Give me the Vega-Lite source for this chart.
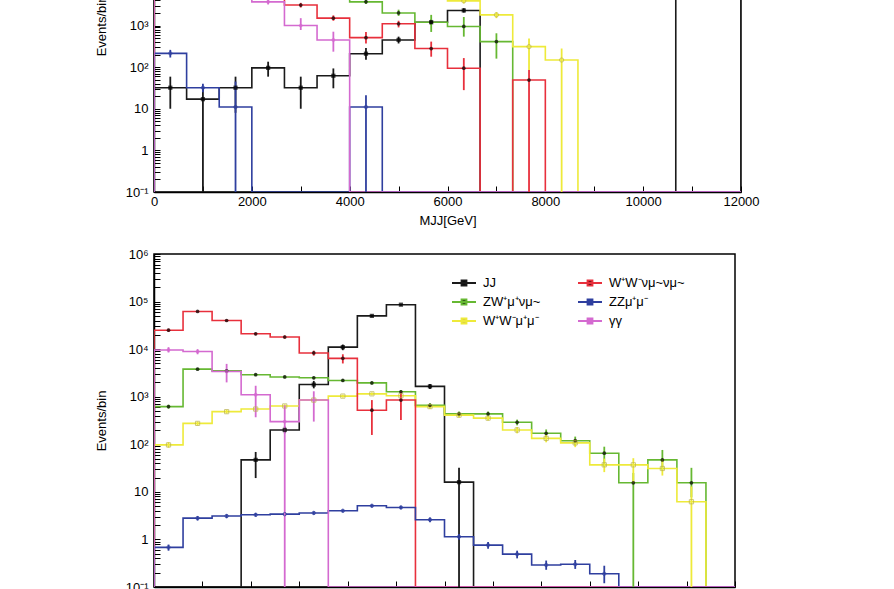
{
"$schema": "https://vega.github.io/schema/vega-lite/v6.json",
"background": "white",
"autosize": {"type": "pad"},
"padding": {"left": 94, "top": -148, "right": 5, "bottom": 5},
"config": {
  "font": "Liberation Sans",
  "view": {"stroke": "#000", "strokeWidth": 1.5},
  "axis": {"domainColor": "#000", "domainWidth": 1.5, "tickColor": "#000", "tickWidth": 1, "labelColor": "#000", "titleColor": "#000", "labelFont": "Liberation Sans", "titleFont": "Liberation Sans", "labelFontSize": 13, "titleFontSize": 13, "titleFontWeight": "normal", "grid": false, "labelOverlap": false, "labelFlush": false, "labelBound": false}
},
"datasets": {
"top": [
{"s":"JJ","x":-666.7,"v":0},
{"s":"JJ","x":0,"c":333.3,"v":32,"l":10,"h":59},
{"s":"JJ","x":666.7,"c":1000,"v":17,"l":0,"h":32},
{"s":"JJ","x":1333.3,"c":1666.7,"v":32,"l":8,"h":59},
{"s":"JJ","x":2000,"c":2333.3,"v":96,"l":59,"h":135},
{"s":"JJ","x":2666.7,"c":3000,"v":32,"l":10,"h":59},
{"s":"JJ","x":3333.3,"c":3666.7,"v":62,"l":31,"h":93},
{"s":"JJ","x":4000,"c":4333.3,"v":210,"l":150,"h":290},
{"s":"JJ","x":4666.7,"c":5000,"v":450,"l":370,"h":540},
{"s":"JJ","x":5333.3,"c":5666.7,"v":1200,"l":1050,"h":1400},
{"s":"JJ","x":6000,"c":6333.3,"v":2300,"l":2050,"h":2600},
{"s":"JJ","x":6666.7,"v":0},
{"s":"JJ","x":7333.3,"v":0},
{"s":"JJ","x":8000,"v":0},
{"s":"JJ","x":8666.7,"v":0},
{"s":"JJ","x":9333.3,"v":0},
{"s":"JJ","x":10000,"v":0},
{"s":"JJ","x":10666.7,"c":11000,"v":30000,"l":28000,"h":32000},
{"s":"JJ","x":11333.3,"c":11666.7,"v":60000,"l":57000,"h":63000},
{"s":"JJ","x":12000,"v":0},
{"s":"ZW⁺μ⁺νμ~","x":-666.7,"v":0},
{"s":"ZW⁺μ⁺νμ~","x":0,"c":333.3,"v":10000,"l":9200,"h":10800},
{"s":"ZW⁺μ⁺νμ~","x":666.7,"c":1000,"v":15000,"l":14000,"h":16000},
{"s":"ZW⁺μ⁺νμ~","x":1333.3,"c":1666.7,"v":15000,"l":14000,"h":16000},
{"s":"ZW⁺μ⁺νμ~","x":2000,"c":2333.3,"v":12000,"l":11000,"h":13000},
{"s":"ZW⁺μ⁺νμ~","x":2666.7,"c":3000,"v":9000,"l":8200,"h":9800},
{"s":"ZW⁺μ⁺νμ~","x":3333.3,"c":3666.7,"v":6000,"l":5400,"h":6600},
{"s":"ZW⁺μ⁺νμ~","x":4000,"c":4333.3,"v":3700,"l":3300,"h":4200},
{"s":"ZW⁺μ⁺νμ~","x":4666.7,"c":5000,"v":2000,"l":1700,"h":2400},
{"s":"ZW⁺μ⁺νμ~","x":5333.3,"c":5666.7,"v":1200,"l":700,"h":1800},
{"s":"ZW⁺μ⁺νμ~","x":6000,"c":6333.3,"v":950,"l":540,"h":1600},
{"s":"ZW⁺μ⁺νμ~","x":6666.7,"c":7000,"v":410,"l":160,"h":650},
{"s":"ZW⁺μ⁺νμ~","x":7333.3,"v":0},
{"s":"ZW⁺μ⁺νμ~","x":8000,"v":0},
{"s":"ZW⁺μ⁺νμ~","x":8666.7,"v":0},
{"s":"ZW⁺μ⁺νμ~","x":9333.3,"v":0},
{"s":"ZW⁺μ⁺νμ~","x":10000,"v":0},
{"s":"ZW⁺μ⁺νμ~","x":10666.7,"v":0},
{"s":"ZW⁺μ⁺νμ~","x":11333.3,"v":0},
{"s":"ZW⁺μ⁺νμ~","x":12000,"v":0},
{"s":"W⁺W⁻μ⁺μ⁻","x":-666.7,"v":0},
{"s":"W⁺W⁻μ⁺μ⁻","x":0,"c":333.3,"v":25000,"l":23000,"h":27000},
{"s":"W⁺W⁻μ⁺μ⁻","x":666.7,"c":1000,"v":30000,"l":28000,"h":32000},
{"s":"W⁺W⁻μ⁺μ⁻","x":1333.3,"c":1666.7,"v":30000,"l":28000,"h":32000},
{"s":"W⁺W⁻μ⁺μ⁻","x":2000,"c":2333.3,"v":25000,"l":23000,"h":27000},
{"s":"W⁺W⁻μ⁺μ⁻","x":2666.7,"c":3000,"v":20000,"l":18500,"h":21500},
{"s":"W⁺W⁻μ⁺μ⁻","x":3333.3,"c":3666.7,"v":15000,"l":13800,"h":16200},
{"s":"W⁺W⁻μ⁺μ⁻","x":4000,"c":4333.3,"v":12000,"l":11000,"h":13000},
{"s":"W⁺W⁻μ⁺μ⁻","x":4666.7,"c":5000,"v":9000,"l":8200,"h":9800},
{"s":"W⁺W⁻μ⁺μ⁻","x":5333.3,"c":5666.7,"v":6000,"l":5400,"h":6600},
{"s":"W⁺W⁻μ⁺μ⁻","x":6000,"c":6333.3,"v":3900,"l":3400,"h":4500},
{"s":"W⁺W⁻μ⁺μ⁻","x":6666.7,"c":7000,"v":1800,"l":1500,"h":2100},
{"s":"W⁺W⁻μ⁺μ⁻","x":7333.3,"c":7666.7,"v":310,"l":85,"h":490},
{"s":"W⁺W⁻μ⁺μ⁻","x":8000,"c":8333.3,"v":148,"l":0,"h":280},
{"s":"W⁺W⁻μ⁺μ⁻","x":8666.7,"v":0},
{"s":"W⁺W⁻μ⁺μ⁻","x":9333.3,"v":0},
{"s":"W⁺W⁻μ⁺μ⁻","x":10000,"v":0},
{"s":"W⁺W⁻μ⁺μ⁻","x":10666.7,"v":0},
{"s":"W⁺W⁻μ⁺μ⁻","x":11333.3,"v":0},
{"s":"W⁺W⁻μ⁺μ⁻","x":12000,"v":0},
{"s":"W⁺W⁻νμ~νμ~","x":-666.7,"v":0},
{"s":"W⁺W⁻νμ~νμ~","x":0,"c":333.3,"v":20000,"l":18500,"h":21500},
{"s":"W⁺W⁻νμ~νμ~","x":666.7,"c":1000,"v":40000,"l":37500,"h":42500},
{"s":"W⁺W⁻νμ~νμ~","x":1333.3,"c":1666.7,"v":25000,"l":23000,"h":27000},
{"s":"W⁺W⁻νμ~νμ~","x":2000,"c":2333.3,"v":8000,"l":7200,"h":8800},
{"s":"W⁺W⁻νμ~νμ~","x":2666.7,"c":3000,"v":3100,"l":2700,"h":3500},
{"s":"W⁺W⁻νμ~νμ~","x":3333.3,"c":3666.7,"v":1500,"l":1300,"h":1750},
{"s":"W⁺W⁻νμ~νμ~","x":4000,"c":4333.3,"v":510,"l":370,"h":700},
{"s":"W⁺W⁻νμ~νμ~","x":4666.7,"c":5000,"v":1100,"l":900,"h":1300},
{"s":"W⁺W⁻νμ~νμ~","x":5333.3,"c":5666.7,"v":280,"l":178,"h":410},
{"s":"W⁺W⁻νμ~νμ~","x":6000,"c":6333.3,"v":94,"l":28,"h":165},
{"s":"W⁺W⁻νμ~νμ~","x":6666.7,"v":0},
{"s":"W⁺W⁻νμ~νμ~","x":7333.3,"c":7666.7,"v":49,"l":0,"h":85},
{"s":"W⁺W⁻νμ~νμ~","x":8000,"v":0},
{"s":"W⁺W⁻νμ~νμ~","x":8666.7,"v":0},
{"s":"W⁺W⁻νμ~νμ~","x":9333.3,"v":0},
{"s":"W⁺W⁻νμ~νμ~","x":10000,"v":0},
{"s":"W⁺W⁻νμ~νμ~","x":10666.7,"v":0},
{"s":"W⁺W⁻νμ~νμ~","x":11333.3,"v":0},
{"s":"W⁺W⁻νμ~νμ~","x":12000,"v":0},
{"s":"ZZμ⁺μ⁻","x":-666.7,"v":0},
{"s":"ZZμ⁺μ⁻","x":0,"c":333.3,"v":214,"l":170,"h":260},
{"s":"ZZμ⁺μ⁻","x":666.7,"c":1000,"v":32,"l":25,"h":40},
{"s":"ZZμ⁺μ⁻","x":1333.3,"c":1666.7,"v":11,"l":0,"h":45},
{"s":"ZZμ⁺μ⁻","x":2000,"v":0},
{"s":"ZZμ⁺μ⁻","x":2666.7,"v":0},
{"s":"ZZμ⁺μ⁻","x":3333.3,"v":0},
{"s":"ZZμ⁺μ⁻","x":4000,"c":4333.3,"v":11,"l":0,"h":21},
{"s":"ZZμ⁺μ⁻","x":4666.7,"v":0},
{"s":"ZZμ⁺μ⁻","x":5333.3,"v":0},
{"s":"ZZμ⁺μ⁻","x":6000,"v":0},
{"s":"ZZμ⁺μ⁻","x":12000,"v":0},
{"s":"γγ","x":-666.7,"v":0},
{"s":"γγ","x":0,"c":333.3,"v":12000,"l":11000,"h":13000},
{"s":"γγ","x":666.7,"c":1000,"v":8000,"l":7200,"h":8800},
{"s":"γγ","x":1333.3,"c":1666.7,"v":5000,"l":4400,"h":5600},
{"s":"γγ","x":2000,"c":2333.3,"v":3700,"l":3200,"h":4200},
{"s":"γγ","x":2666.7,"c":3000,"v":1000,"l":780,"h":1500},
{"s":"γγ","x":3333.3,"c":3666.7,"v":450,"l":235,"h":710},
{"s":"γγ","x":4000,"v":0},
{"s":"γγ","x":4666.7,"v":0},
{"s":"γγ","x":5333.3,"v":0},
{"s":"γγ","x":6000,"v":0},
{"s":"γγ","x":12000,"v":0}
],
"bot": [
{"s":"JJ","x":-120,"v":0},
{"s":"JJ","x":0,"v":0},
{"s":"JJ","x":120,"v":0},
{"s":"JJ","x":240,"v":0},
{"s":"JJ","x":360,"c":420,"v":47,"l":19.5,"h":69},
{"s":"JJ","x":480,"c":540,"v":200,"l":170,"h":235},
{"s":"JJ","x":600,"c":660,"v":1800,"l":1500,"h":2150},
{"s":"JJ","x":720,"c":780,"v":11000,"l":9500,"h":12500},
{"s":"JJ","x":840,"c":900,"v":50000,"l":47000,"h":53000},
{"s":"JJ","x":960,"c":1020,"v":86000,"l":82000,"h":90000},
{"s":"JJ","x":1080,"c":1140,"v":1650,"l":1450,"h":1850},
{"s":"JJ","x":1200,"c":1260,"v":16,"l":0,"h":32},
{"s":"JJ","x":1320,"v":0},
{"s":"JJ","x":1440,"v":0},
{"s":"JJ","x":1560,"v":0},
{"s":"JJ","x":1680,"v":0},
{"s":"JJ","x":1800,"v":0},
{"s":"JJ","x":1920,"v":0},
{"s":"JJ","x":2040,"v":0},
{"s":"JJ","x":2160,"v":0},
{"s":"JJ","x":2280,"v":0},
{"s":"JJ","x":2400,"v":0},
{"s":"ZW⁺μ⁺νμ~","x":-120,"v":0},
{"s":"ZW⁺μ⁺νμ~","x":0,"c":60,"v":620,"l":560,"h":680},
{"s":"ZW⁺μ⁺νμ~","x":120,"c":180,"v":3800,"l":3550,"h":4050},
{"s":"ZW⁺μ⁺νμ~","x":240,"c":300,"v":3500,"l":3270,"h":3730},
{"s":"ZW⁺μ⁺νμ~","x":360,"c":420,"v":2900,"l":2700,"h":3100},
{"s":"ZW⁺μ⁺νμ~","x":480,"c":540,"v":2600,"l":2420,"h":2780},
{"s":"ZW⁺μ⁺νμ~","x":600,"c":660,"v":2500,"l":2320,"h":2680},
{"s":"ZW⁺μ⁺νμ~","x":720,"c":780,"v":2200,"l":2040,"h":2360},
{"s":"ZW⁺μ⁺νμ~","x":840,"c":900,"v":1950,"l":1800,"h":2100},
{"s":"ZW⁺μ⁺νμ~","x":960,"c":1020,"v":1270,"l":1160,"h":1380},
{"s":"ZW⁺μ⁺νμ~","x":1080,"c":1140,"v":660,"l":590,"h":730},
{"s":"ZW⁺μ⁺νμ~","x":1200,"c":1260,"v":436,"l":385,"h":490},
{"s":"ZW⁺μ⁺νμ~","x":1320,"c":1380,"v":436,"l":385,"h":490},
{"s":"ZW⁺μ⁺νμ~","x":1440,"c":1500,"v":290,"l":250,"h":330},
{"s":"ZW⁺μ⁺νμ~","x":1560,"c":1620,"v":170,"l":140,"h":205},
{"s":"ZW⁺μ⁺νμ~","x":1680,"c":1740,"v":119,"l":95,"h":145},
{"s":"ZW⁺μ⁺νμ~","x":1800,"c":1860,"v":65,"l":34,"h":89},
{"s":"ZW⁺μ⁺νμ~","x":1920,"c":1980,"v":15.5,"l":0,"h":25},
{"s":"ZW⁺μ⁺νμ~","x":2040,"c":2100,"v":47,"l":29,"h":76},
{"s":"ZW⁺μ⁺νμ~","x":2160,"c":2220,"v":15.5,"l":7.7,"h":32},
{"s":"ZW⁺μ⁺νμ~","x":2280,"v":0},
{"s":"ZW⁺μ⁺νμ~","x":2400,"v":0},
{"s":"W⁺W⁻μ⁺μ⁻","x":-120,"v":0},
{"s":"W⁺W⁻μ⁺μ⁻","x":0,"c":60,"v":97,"l":85,"h":110},
{"s":"W⁺W⁻μ⁺μ⁻","x":120,"c":180,"v":275,"l":250,"h":300},
{"s":"W⁺W⁻μ⁺μ⁻","x":240,"c":300,"v":485,"l":445,"h":525},
{"s":"W⁺W⁻μ⁺μ⁻","x":360,"c":420,"v":550,"l":505,"h":595},
{"s":"W⁺W⁻μ⁺μ⁻","x":480,"c":540,"v":640,"l":590,"h":690},
{"s":"W⁺W⁻μ⁺μ⁻","x":600,"c":660,"v":850,"l":790,"h":910},
{"s":"W⁺W⁻μ⁺μ⁻","x":720,"c":780,"v":1030,"l":960,"h":1100},
{"s":"W⁺W⁻μ⁺μ⁻","x":840,"c":900,"v":1150,"l":1070,"h":1230},
{"s":"W⁺W⁻μ⁺μ⁻","x":960,"c":1020,"v":1050,"l":970,"h":1130},
{"s":"W⁺W⁻μ⁺μ⁻","x":1080,"c":1140,"v":620,"l":560,"h":680},
{"s":"W⁺W⁻μ⁺μ⁻","x":1200,"c":1260,"v":410,"l":365,"h":455},
{"s":"W⁺W⁻μ⁺μ⁻","x":1320,"c":1380,"v":355,"l":315,"h":395},
{"s":"W⁺W⁻μ⁺μ⁻","x":1440,"c":1500,"v":200,"l":170,"h":230},
{"s":"W⁺W⁻μ⁺μ⁻","x":1560,"c":1620,"v":133,"l":110,"h":158},
{"s":"W⁺W⁻μ⁺μ⁻","x":1680,"c":1740,"v":107,"l":87,"h":128},
{"s":"W⁺W⁻μ⁺μ⁻","x":1800,"c":1860,"v":37,"l":26,"h":50},
{"s":"W⁺W⁻μ⁺μ⁻","x":1920,"c":1980,"v":37,"l":15.5,"h":51},
{"s":"W⁺W⁻μ⁺μ⁻","x":2040,"c":2100,"v":31,"l":22,"h":48},
{"s":"W⁺W⁻μ⁺μ⁻","x":2160,"c":2220,"v":6.2,"l":0,"h":13},
{"s":"W⁺W⁻μ⁺μ⁻","x":2280,"v":0},
{"s":"W⁺W⁻μ⁺μ⁻","x":2400,"v":0},
{"s":"W⁺W⁻νμ~νμ~","x":-120,"v":0},
{"s":"W⁺W⁻νμ~νμ~","x":0,"c":60,"v":25000,"l":23000,"h":27000},
{"s":"W⁺W⁻νμ~νμ~","x":120,"c":180,"v":62000,"l":59000,"h":65000},
{"s":"W⁺W⁻νμ~νμ~","x":240,"c":300,"v":40000,"l":37500,"h":42500},
{"s":"W⁺W⁻νμ~νμ~","x":360,"c":420,"v":21000,"l":19500,"h":22500},
{"s":"W⁺W⁻νμ~νμ~","x":480,"c":540,"v":18000,"l":16500,"h":19500},
{"s":"W⁺W⁻νμ~νμ~","x":600,"c":660,"v":8300,"l":7300,"h":9300},
{"s":"W⁺W⁻νμ~νμ~","x":720,"c":780,"v":6400,"l":5000,"h":7800},
{"s":"W⁺W⁻νμ~νμ~","x":840,"c":900,"v":520,"l":157,"h":850},
{"s":"W⁺W⁻νμ~νμ~","x":960,"c":1020,"v":850,"l":325,"h":1270},
{"s":"W⁺W⁻νμ~νμ~","x":1080,"v":0},
{"s":"W⁺W⁻νμ~νμ~","x":1200,"v":0},
{"s":"W⁺W⁻νμ~νμ~","x":2400,"v":0},
{"s":"ZZμ⁺μ⁻","x":-120,"v":0},
{"s":"ZZμ⁺μ⁻","x":0,"c":60,"v":0.68,"l":0.58,"h":0.78},
{"s":"ZZμ⁺μ⁻","x":120,"c":180,"v":2.8,"l":2.5,"h":3.1},
{"s":"ZZμ⁺μ⁻","x":240,"c":300,"v":3.1,"l":2.8,"h":3.4},
{"s":"ZZμ⁺μ⁻","x":360,"c":420,"v":3.3,"l":3.0,"h":3.6},
{"s":"ZZμ⁺μ⁻","x":480,"c":540,"v":3.4,"l":3.1,"h":3.7},
{"s":"ZZμ⁺μ⁻","x":600,"c":660,"v":3.6,"l":3.3,"h":3.9},
{"s":"ZZμ⁺μ⁻","x":720,"c":780,"v":4.0,"l":3.7,"h":4.3},
{"s":"ZZμ⁺μ⁻","x":840,"c":900,"v":5.1,"l":4.7,"h":5.5},
{"s":"ZZμ⁺μ⁻","x":960,"c":1020,"v":4.7,"l":4.3,"h":5.1},
{"s":"ZZμ⁺μ⁻","x":1080,"c":1140,"v":2.6,"l":2.3,"h":2.9},
{"s":"ZZμ⁺μ⁻","x":1200,"c":1260,"v":1.14,"l":0.98,"h":1.3},
{"s":"ZZμ⁺μ⁻","x":1320,"c":1380,"v":0.76,"l":0.64,"h":0.88},
{"s":"ZZμ⁺μ⁻","x":1440,"c":1500,"v":0.49,"l":0.4,"h":0.58},
{"s":"ZZμ⁺μ⁻","x":1560,"c":1620,"v":0.29,"l":0.23,"h":0.36},
{"s":"ZZμ⁺μ⁻","x":1680,"c":1740,"v":0.3,"l":0.24,"h":0.37},
{"s":"ZZμ⁺μ⁻","x":1800,"c":1860,"v":0.19,"l":0.12,"h":0.28},
{"s":"ZZμ⁺μ⁻","x":1920,"v":0},
{"s":"ZZμ⁺μ⁻","x":2040,"v":0},
{"s":"ZZμ⁺μ⁻","x":2160,"v":0},
{"s":"ZZμ⁺μ⁻","x":2280,"v":0},
{"s":"ZZμ⁺μ⁻","x":2400,"v":0},
{"s":"γγ","x":-120,"v":0},
{"s":"γγ","x":0,"c":60,"v":9600,"l":8500,"h":11000},
{"s":"γγ","x":120,"c":180,"v":8900,"l":7800,"h":10000},
{"s":"γγ","x":240,"c":300,"v":3400,"l":2000,"h":4900},
{"s":"γγ","x":360,"c":420,"v":1100,"l":370,"h":1700},
{"s":"γγ","x":480,"c":540,"v":300,"l":0,"h":660},
{"s":"γγ","x":600,"c":660,"v":850,"l":300,"h":1300},
{"s":"γγ","x":720,"v":0},
{"s":"γγ","x":840,"v":0},
{"s":"γγ","x":2400,"v":0}
]
},
"spacing": 19,
"resolve": {"scale": {"color": "independent"}, "legend": {"color": "independent"}},
"vconcat": [
{
  "width": 587, "height": 333,
  "data": {"name": "top"},
  "layer": [
    {
      "mark": {"type": "line", "interpolate": "step-after", "strokeWidth": 1.6, "clip": true, "invalid": "show"},
      "encoding": {
        "x": {"field": "x", "type": "quantitative", "scale": {"domain": [0, 12000], "nice": false, "zero": false},
              "axis": {"values": [0,500,1000,1500,2000,2500,3000,3500,4000,4500,5000,5500,6000,6500,7000,7500,8000,8500,9000,9500,10000,10500,11000,11500,12000], "format": "d", "labelExpr": "datum.value % 2000 === 0 ? datum.label : ''", "tickSize": -6, "labelPadding": 9, "title": "MJJ[GeV]", "titlePadding": 6}},
        "y": {"field": "v", "type": "quantitative", "scale": {"type": "log", "domain": [0.1, 10000000], "nice": false, "clamp": true},
              "axis": {"values": [0.1,0.2,0.3,0.4,0.5,0.6,0.7,0.8,0.9,1,2,3,4,5,6,7,8,9,10,20,30,40,50,60,70,80,90,100,200,300,400,500,600,700,800,900,1000,2000,3000,4000,5000,6000,7000,8000,9000,10000,20000,30000,40000,50000,60000,70000,80000,90000,100000,200000,300000,400000,500000,600000,700000,800000,900000,1000000,2000000,3000000,4000000,5000000,6000000,7000000,8000000,9000000,10000000],
                       "labelExpr": "datum.value == 0.1 ? '10⁻¹' : datum.value == 1 ? '1' : datum.value == 10 ? '10' : datum.value == 100 ? '10²' : datum.value == 1000 ? '10³' : datum.value == 10000 ? '10⁴' : datum.value == 100000 ? '10⁵' : datum.value == 1000000 ? '10⁶' : datum.value == 10000000 ? '10⁷' : ''",
                       "tickSize": -6, "labelPadding": 12, "title": "Events/bin", "titlePadding": 17}},
        "color": {"field": "s", "type": "nominal", "legend": null,
                  "scale": {"domain": ["JJ","ZW⁺μ⁺νμ~","W⁺W⁻μ⁺μ⁻","W⁺W⁻νμ~νμ~","ZZμ⁺μ⁻","γγ"], "range": ["#1a1a1a","#66b832","#eeea3a","#e8303c","#2f3f9f","#d46ad0"]}}
      }
    },
    {
      "transform": [{"filter": "isValid(datum.h)"}],
      "mark": {"type": "rule", "strokeWidth": 1.8, "clip": true, "invalid": "show"},
      "encoding": {
        "x": {"field": "c", "type": "quantitative"},
        "y": {"field": "l", "type": "quantitative"},
        "y2": {"field": "h"},
        "color": {"field": "s", "type": "nominal", "legend": null}
      }
    },
    {"transform": [{"filter": "datum.s === 'JJ' && datum.v > 0 && isValid(datum.c)"}],
     "mark": {"type": "point", "shape": "square", "filled": true, "size": 18, "color": "#000", "clip": true},
     "encoding": {"x": {"field": "c", "type": "quantitative"}, "y": {"field": "v", "type": "quantitative"}}},
    {"transform": [{"filter": "(datum.s === 'W⁺W⁻νμ~νμ~' || datum.s === 'ZW⁺μ⁺νμ~') && datum.v > 0 && isValid(datum.c)"}],
     "mark": {"type": "point", "shape": "circle", "filled": true, "size": 14, "color": "#000", "clip": true},
     "encoding": {"x": {"field": "c", "type": "quantitative"}, "y": {"field": "v", "type": "quantitative"}}},
    {"transform": [{"filter": "datum.s === 'ZZμ⁺μ⁻' && datum.v > 0 && isValid(datum.c)"}],
     "mark": {"type": "point", "shape": "circle", "filled": false, "size": 12, "color": "#2f3f9f", "strokeWidth": 1, "clip": true},
     "encoding": {"x": {"field": "c", "type": "quantitative"}, "y": {"field": "v", "type": "quantitative"}}},
    {"transform": [{"filter": "datum.s === 'W⁺W⁻μ⁺μ⁻' && datum.v > 0 && isValid(datum.c)"}],
     "mark": {"type": "point", "shape": "circle", "filled": false, "size": 18, "color": "#b8b048", "strokeWidth": 1, "clip": true},
     "encoding": {"x": {"field": "c", "type": "quantitative"}, "y": {"field": "v", "type": "quantitative"}}},
    {"transform": [{"filter": "datum.s === 'γγ' && datum.v > 0 && isValid(datum.c)"}],
     "mark": {"type": "point", "shape": "circle", "filled": true, "size": 14, "color": "#d46ad0", "clip": true},
     "encoding": {"x": {"field": "c", "type": "quantitative"}, "y": {"field": "v", "type": "quantitative"}}}
  ]
},
{
  "width": 581, "height": 333,
  "data": {"name": "bot"},
  "layer": [
    {
      "mark": {"type": "line", "interpolate": "step-after", "strokeWidth": 1.6, "clip": true, "invalid": "show"},
      "encoding": {
        "x": {"field": "x", "type": "quantitative", "scale": {"domain": [0, 2400], "nice": false, "zero": false},
              "axis": {"values": [0,100,200,300,400,500,600,700,800,900,1000,1100,1200,1300,1400,1500,1600,1700,1800,1900,2000,2100,2200,2300,2400], "labels": false, "tickSize": -6, "title": null}},
        "y": {"field": "v", "type": "quantitative", "scale": {"type": "log", "domain": [0.1, 1000000], "nice": false, "clamp": true},
              "axis": {"values": [0.1,0.2,0.3,0.4,0.5,0.6,0.7,0.8,0.9,1,2,3,4,5,6,7,8,9,10,20,30,40,50,60,70,80,90,100,200,300,400,500,600,700,800,900,1000,2000,3000,4000,5000,6000,7000,8000,9000,10000,20000,30000,40000,50000,60000,70000,80000,90000,100000,200000,300000,400000,500000,600000,700000,800000,900000,1000000],
                       "labelExpr": "datum.value == 0.1 ? '10⁻¹' : datum.value == 1 ? '1' : datum.value == 10 ? '10' : datum.value == 100 ? '10²' : datum.value == 1000 ? '10³' : datum.value == 10000 ? '10⁴' : datum.value == 100000 ? '10⁵' : datum.value == 1000000 ? '10⁶' : ''",
                       "tickSize": -6, "labelPadding": 12, "title": "Events/bin", "titlePadding": 17}},
        "color": {"field": "s", "type": "nominal",
                  "scale": {"domain": ["JJ","ZW⁺μ⁺νμ~","W⁺W⁻μ⁺μ⁻","W⁺W⁻νμ~νμ~","ZZμ⁺μ⁻","γγ"], "range": ["#1a1a1a","#66b832","#eeea3a","#e8303c","#2f3f9f","#d46ad0"]},
                  "legend": {"orient": "none", "legendX": 303, "legendY": 22, "columns": 2, "title": null,
                             "symbolType": "M-2,0H2M-0.4,-0.4H0.4V0.4H-0.4Z", "symbolSize": 144, "symbolStrokeWidth": 2,
                             "labelFont": "Liberation Sans", "labelFontSize": 13, "labelColor": "#000", "labelOffset": 12,
                             "rowPadding": 5, "columnPadding": 33,
                             "encode": {"symbols": {"update": {"fill": {"signal": "datum.value === 'ZZμ⁺μ⁻' ? '#2f3f9f' : datum.value === 'γγ' ? '#d46ad0' : datum.value === 'W⁺W⁻μ⁺μ⁻' ? '#c8c050' : '#000'"}}}}}}
      }
    },
    {
      "transform": [{"filter": "isValid(datum.h)"}],
      "mark": {"type": "rule", "strokeWidth": 1.8, "clip": true, "invalid": "show"},
      "encoding": {
        "x": {"field": "c", "type": "quantitative"},
        "y": {"field": "l", "type": "quantitative"},
        "y2": {"field": "h"},
        "color": {"field": "s", "type": "nominal"}
      }
    },
    {"transform": [{"filter": "datum.s === 'JJ' && datum.v > 0 && isValid(datum.c)"}],
     "mark": {"type": "point", "shape": "square", "filled": true, "size": 18, "color": "#000", "clip": true},
     "encoding": {"x": {"field": "c", "type": "quantitative"}, "y": {"field": "v", "type": "quantitative"}}},
    {"transform": [{"filter": "(datum.s === 'W⁺W⁻νμ~νμ~' || datum.s === 'ZW⁺μ⁺νμ~') && datum.v > 0 && isValid(datum.c)"}],
     "mark": {"type": "point", "shape": "circle", "filled": true, "size": 14, "color": "#000", "clip": true},
     "encoding": {"x": {"field": "c", "type": "quantitative"}, "y": {"field": "v", "type": "quantitative"}}},
    {"transform": [{"filter": "datum.s === 'ZZμ⁺μ⁻' && datum.v > 0 && isValid(datum.c)"}],
     "mark": {"type": "point", "shape": "circle", "filled": false, "size": 12, "color": "#2f3f9f", "strokeWidth": 1, "clip": true},
     "encoding": {"x": {"field": "c", "type": "quantitative"}, "y": {"field": "v", "type": "quantitative"}}},
    {"transform": [{"filter": "datum.s === 'W⁺W⁻μ⁺μ⁻' && datum.v > 0 && isValid(datum.c)"}],
     "mark": {"type": "point", "shape": "square", "filled": false, "size": 18, "color": "#b8b048", "strokeWidth": 1, "clip": true},
     "encoding": {"x": {"field": "c", "type": "quantitative"}, "y": {"field": "v", "type": "quantitative"}}},
    {"transform": [{"filter": "datum.s === 'γγ' && datum.v > 0 && isValid(datum.c)"}],
     "mark": {"type": "point", "shape": "circle", "filled": true, "size": 14, "color": "#d46ad0", "clip": true},
     "encoding": {"x": {"field": "c", "type": "quantitative"}, "y": {"field": "v", "type": "quantitative"}}}
  ]
}
]
}
